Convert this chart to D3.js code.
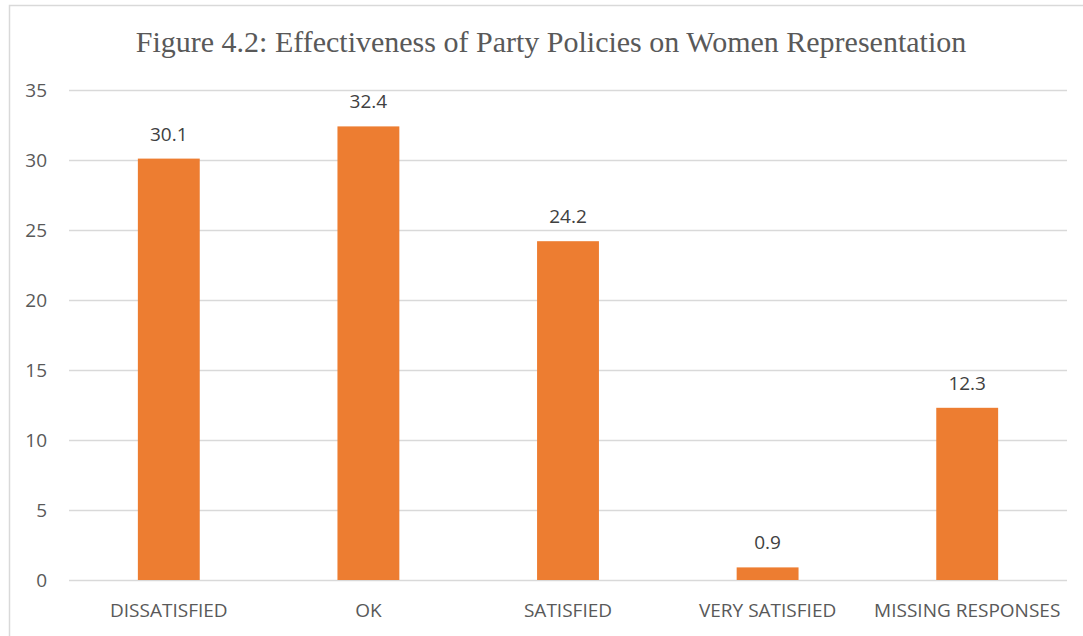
<!DOCTYPE html>
<html>
<head>
<meta charset="utf-8">
<script src="https://cdn.jsdelivr.net/npm/d3@7"></script>
<style>
  body { margin: 0; background: #fff; }
  svg { display: block; }
</style>
</head>
<body>
<script>
// Data
const categories = ["DISSATISFIED", "OK", "SATISFIED", "VERY SATISFIED", "MISSING RESPONSES"];
const values = [30.1, 32.4, 24.2, 0.9, 12.3];
const yTicks = [0, 5, 10, 15, 20, 25, 30, 35];
const title = "Figure 4.2: Effectiveness of Party Policies on Women Representation";

const width = 1083;
const height = 636;
const margin = { top: 90, right: 16, bottom: 56, left: 69 }; // plot area 69..1067, 90..580
const fontSans = "'Open Sans', sans-serif";

const svg = d3.select("body")
  .append("svg")
  .attr("width", width)
  .attr("height", height);

// chart frame
svg.append("rect")
  .attr("x", 9.5)
  .attr("y", 5.5)
  .attr("width", width + 10)
  .attr("height", height + 10)
  .attr("fill", "none")
  .attr("stroke", "#d9d9d9")
  .attr("stroke-width", 1.5);

const x = d3.scaleBand()
  .domain(categories)
  .range([margin.left, width - margin.right])
  .paddingInner(0.69)
  .paddingOuter(0.345);

const y = d3.scaleLinear()
  .domain([0, 35])
  .range([height - margin.bottom, margin.top]);

// gridlines
svg.append("g")
  .selectAll("line")
  .data(yTicks)
  .join("line")
  .attr("x1", margin.left)
  .attr("x2", width - margin.right)
  .attr("y1", d => Math.round(y(d)) + 0.5)
  .attr("y2", d => Math.round(y(d)) + 0.5)
  .attr("stroke", "#d9d9d9")
  .attr("stroke-width", 1.5);

// y axis labels
const yAxis = svg.append("g")
  .attr("transform", `translate(${margin.left - 22},0)`)
  .call(d3.axisLeft(y).tickValues(yTicks).tickSize(0).tickPadding(0));
yAxis.select(".domain").remove();
yAxis.selectAll("text")
  .attr("fill", "#595959")
  .style("font-family", fontSans)
  .style("font-size", "19px");

// bars
svg.append("g")
  .selectAll("rect")
  .data(values)
  .join("rect")
  .attr("x", (d, i) => x(categories[i]))
  .attr("y", d => y(d))
  .attr("width", x.bandwidth())
  .attr("height", d => y(0) - y(d))
  .attr("fill", "#ed7d31");

// value labels
svg.append("g")
  .selectAll("text")
  .data(values)
  .join("text")
  .attr("x", (d, i) => x(categories[i]) + x.bandwidth() / 2)
  .attr("y", d => y(d) - 18)
  .attr("text-anchor", "middle")
  .attr("fill", "#404040")
  .style("font-family", fontSans)
  .style("font-size", "19px")
  .text(d => d);

// x axis labels
const xAxis = svg.append("g")
  .attr("transform", `translate(0,${y(0)})`)
  .call(d3.axisBottom(x).tickSize(0).tickPadding(0));
xAxis.select(".domain").remove();
xAxis.selectAll("text")
  .attr("y", 37)
  .attr("dy", null)
  .attr("fill", "#595959")
  .style("font-family", fontSans)
  .style("font-size", "19px");

// title
svg.append("text")
  .attr("x", 551)
  .attr("y", 52)
  .attr("text-anchor", "middle")
  .attr("fill", "#595959")
  .style("font-family", "'Liberation Serif', 'Times New Roman', serif")
  .style("font-size", "30px")
  .text(title);
</script>
</body>
</html>
